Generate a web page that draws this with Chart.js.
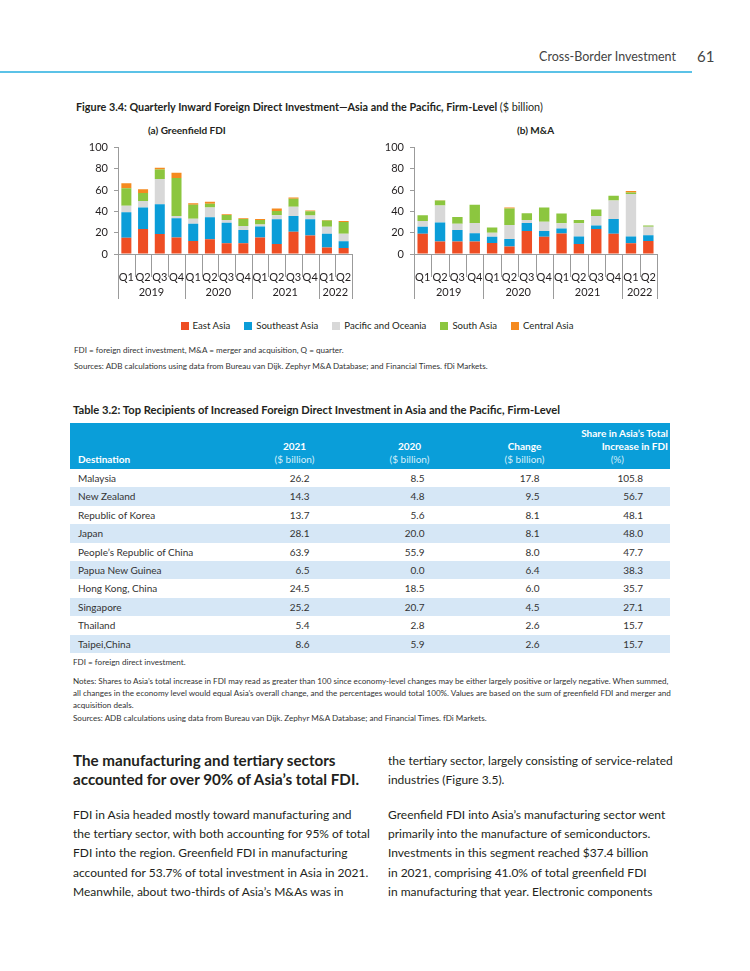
<!DOCTYPE html>
<html>
<head>
<meta charset="utf-8">
<script src="https://cdn.jsdelivr.net/npm/chart.js@4.4.1/dist/chart.umd.min.js"></script>
<style>
  body { margin:0; width:750px; height:971px; background:#fff; font-family:Lato, "Open Sans", sans-serif; color:#231f20; position:relative; overflow:hidden; }
  .abs { position:absolute; white-space:nowrap; }
  .hdr { top:49px; right:74px; font-size:12.5px; color:#444; }
  .pg { top:47px; left:697px; font-size:15px; color:#444; }
  .rule { top:71px; left:0; width:692px; height:1.5px; background:#5bc2e7; }
  .figt { top:100px; left:76px; font-size:10.8px; font-weight:bold; }
  .figt span { font-weight:normal; }
  .sub { top:124px; font-size:10px; font-weight:bold; }
  canvas { position:absolute; }
  .legend { top:320px; left:0; width:754px; display:flex; justify-content:center; font-size:9.6px; }
  .legend div { margin:0 7px; display:flex; align-items:center; }
  .legend i { display:inline-block; width:8px; height:8px; margin-right:4px; }
  .note { font-size:8.1px; color:#333; }
  .tt { top:403px; left:73px; font-size:11.2px; font-weight:bold; }
  table { position:absolute; top:423px; left:70px; width:600px; border-collapse:collapse; font-size:10px; table-layout:fixed; }
  th { background:#0a9ed9; color:#fff; font-weight:bold; height:43px; vertical-align:bottom; padding:0 4px 3px 8px; line-height:13px; text-align:center; white-space:nowrap; }
  th .u { font-weight:normal; color:#d4eef9; }
  td { height:18.4px; padding:0 4px 0 8px; text-align:center; line-height:18.4px; color:#333; white-space:nowrap; }
  td:first-child, th:first-child { text-align:left; }
  td span { display:inline-block; width:30px; text-align:right; }
  tr.b td { background:#d6e7f6; }
  .h2 { top:751px; left:73px; font-size:15.2px; font-weight:bold; line-height:19px; color:#231f20; }
  .body { font-size:12px; line-height:19.2px; color:#231f20; }
</style>
</head>
<body>
<div class="abs hdr">Cross-Border Investment</div>
<div class="abs pg">61</div>
<div class="abs rule"></div>
<div class="abs figt">Figure 3.4: Quarterly Inward Foreign Direct Investment—Asia and the Pacific, Firm-Level <span>($ billion)</span></div>
<div class="abs sub" style="left:148px">(a) Greenfield FDI</div>
<div class="abs sub" style="left:517px">(b) M&amp;A</div>
<canvas id="chartA" width="290" height="170" style="left:76px;top:135px;width:290px;height:170px"></canvas>
<canvas id="chartB" width="300" height="170" style="left:372px;top:135px;width:300px;height:170px"></canvas>
<div class="abs legend" id="legend"></div>
<div class="abs note" style="top:345px;left:74px">FDI = foreign direct investment, M&amp;A = merger and acquisition, Q = quarter.</div>
<div class="abs note" style="top:361px;left:74px">Sources: ADB calculations using data from Bureau van Dijk. Zephyr M&amp;A Database; and Financial Times. fDi Markets.</div>

<div class="abs tt">Table 3.2: Top Recipients of Increased Foreign Direct Investment in Asia and the Pacific, Firm-Level</div>
<table id="tbl">
  <colgroup><col style="width:165px"><col style="width:115px"><col style="width:115px"><col style="width:115px"><col style="width:90px"></colgroup>
  <thead><tr>
    <th>Destination</th>
    <th>2021<br><span class="u">($ billion)</span></th>
    <th>2020<br><span class="u">($ billion)</span></th>
    <th>Change<br><span class="u">($ billion)</span></th>
    <th style="text-align:right;padding-right:2px;padding-left:0">Share in Asia’s Total<br>Increase in FDI<br><span class="u" style="padding-right:44px">(%)</span></th>
  </tr></thead>
  <tbody id="tbody"></tbody>
</table>
<div class="abs note" style="top:657px;left:73px">FDI = foreign direct investment.</div>
<div class="abs note" style="top:675px;left:73px;line-height:12px">Notes: Shares to Asia’s total increase in FDI may read as greater than 100 since economy-level changes may be either largely positive or largely negative. When summed,<br>all changes in the economy level would equal Asia’s overall change, and the percentages would total 100%. Values are based on the sum of greenfield FDI and merger and<br>acquisition deals.</div>
<div class="abs note" style="top:713px;left:73px">Sources: ADB calculations using data from Bureau van Dijk. Zephyr M&amp;A Database; and Financial Times. fDi Markets.</div>

<div class="abs h2">The manufacturing and tertiary sectors<br>accounted for over 90% of Asia’s total FDI.</div>
<div class="abs body" style="top:751px;left:388px">the tertiary sector, largely consisting of service-related<br>industries (Figure 3.5).</div>
<div class="abs body" style="top:805px;left:73px">FDI in Asia headed mostly toward manufacturing and<br>the tertiary sector, with both accounting for 95% of total<br>FDI into the region. Greenfield FDI in manufacturing<br>accounted for 53.7% of total investment in Asia in 2021.<br>Meanwhile, about two-thirds of Asia’s M&amp;As was in</div>
<div class="abs body" style="top:805px;left:388px">Greenfield FDI into Asia’s manufacturing sector went<br>primarily into the manufacture of semiconductors.<br>Investments in this segment reached $37.4 billion<br>in 2021, comprising 41.0% of total greenfield FDI<br>in manufacturing that year. Electronic components</div>

<script>
var quarters = ["Q1", "Q2", "Q3", "Q4", "Q1", "Q2", "Q3", "Q4", "Q1", "Q2", "Q3", "Q4", "Q1", "Q2"]
var years = ["2019", "2020", "2021", "2022"]
var yearQuarters = [4, 4, 4, 2]
var regions = ["East Asia", "Southeast Asia", "Pacific and Oceania", "South Asia", "Central Asia"]
var regionColors = ["#ee4e24", "#0b9dd8", "#d8d8d8", "#8cc63f", "#f58a1f"]
var yTicks = [0, 20, 40, 60, 80, 100]

// (a) Greenfield FDI, $ billion
var gfEast = [15.2, 23.4, 18.7, 15.5, 12.3, 13.9, 10.1, 10.1, 15.5, 9.5, 20.9, 17.4, 6.0, 5.7]
var gfSoutheast = [24.0, 20.3, 28.1, 18.0, 16.2, 20.6, 19.3, 12.4, 10.4, 23.1, 14.9, 15.2, 13.0, 6.3]
var gfPacific = [6.1, 6.0, 23.8, 2.3, 4.7, 9.2, 2.6, 3.8, 1.9, 3.8, 8.5, 3.5, 6.6, 7.0]
var gfSouth = [16.4, 7.6, 8.8, 35.7, 13.0, 3.5, 4.7, 6.6, 4.2, 4.1, 7.6, 4.1, 6.0, 11.0]
var gfCentral = [4.8, 3.5, 1.6, 4.8, 1.6, 1.8, 0.6, 0.6, 0.9, 2.2, 1.3, 0.6, 0.4, 1.0]

// (b) M&A, $ billion
var maEast = [19.0, 11.7, 11.7, 11.7, 10.4, 7.0, 21.5, 16.1, 19.3, 9.5, 23.4, 19.0, 10.1, 12.3]
var maSoutheast = [6.6, 18.0, 10.8, 7.9, 5.7, 7.2, 7.6, 5.4, 4.7, 7.0, 3.5, 13.9, 6.4, 5.4]
var maPacific = [5.4, 15.9, 6.0, 9.5, 3.8, 13.0, 2.9, 8.9, 4.8, 12.3, 8.9, 17.4, 39.8, 7.9]
var maSouth = [5.4, 4.7, 6.3, 17.1, 5.1, 15.5, 6.3, 13.3, 9.2, 3.2, 6.0, 4.4, 1.6, 1.3]
var maCentral = [0, 0.3, 0, 0, 0, 1.0, 0, 0, 0, 0, 0, 0, 1.3, 0]

// table 3.2
var destinations = ["Malaysia", "New Zealand", "Republic of Korea", "Japan", "People’s Republic of China", "Papua New Guinea", "Hong Kong, China", "Singapore", "Thailand", "Taipei,China"]
var val2021 = ["26.2", "14.3", "13.7", "28.1", "63.9", "6.5", "24.5", "25.2", "5.4", "8.6"]
var val2020 = ["8.5", "4.8", "5.6", "20.0", "55.9", "0.0", "18.5", "20.7", "2.8", "5.9"]
var valChange = ["17.8", "9.5", "8.1", "8.1", "8.0", "6.4", "6.0", "4.5", "2.6", "2.6"]
var valShare = ["105.8", "56.7", "48.1", "48.0", "47.7", "38.3", "35.7", "27.1", "15.7", "15.7"]

var axisGrey = "#9b9b9b"
var tickFont = { family: "Lato", size: 11 }

// year row + quarter separators under the x axis
var yearAxisPlugin = {
    id: "yearAxis",
    afterDraw: function (chart) {
        var x = chart.scales.x
        var ctx = chart.ctx
        var base = chart.chartArea.bottom
        var step = x.getPixelForValue(1) - x.getPixelForValue(0)
        var yearEdges = [0]
        yearQuarters.forEach(function (n, i) { yearEdges.push(yearEdges[i] + n) })
        ctx.save()
        ctx.strokeStyle = axisGrey
        ctx.lineWidth = 1
        for (var b = 0; b <= quarters.length; b++) {
            var px = Math.round(x.getPixelForValue(b) - step / 2) + 0.5
            var len = yearEdges.indexOf(b) >= 0 ? 45 : 23
            ctx.beginPath()
            ctx.moveTo(px, base)
            ctx.lineTo(px, base + len)
            ctx.stroke()
        }
        ctx.fillStyle = "#231f20"
        ctx.font = "11px Lato"
        ctx.textAlign = "center"
        ctx.textBaseline = "middle"
        years.forEach(function (y, i) {
            var mid = (x.getPixelForValue(yearEdges[i]) + x.getPixelForValue(yearEdges[i + 1] - 1)) / 2
            ctx.fillText(y, mid, base + 38)
        })
        ctx.restore()
    }
}

function makeChart(id, series, rightPad) {
    var datasets = series.map(function (data, i) {
        return {
            label: regions[i],
            data: data,
            backgroundColor: regionColors[i],
            borderWidth: 0,
            barPercentage: 0.6,
            categoryPercentage: 1,
        }
    })
    return new Chart(document.getElementById(id).getContext("2d"), {
        type: "bar",
        data: { labels: quarters, datasets: datasets },
        options: {
            responsive: false,
            animation: false,
            layout: { padding: { top: 2, right: rightPad, left: 0, bottom: 0 } },
            plugins: { legend: { display: false }, tooltip: { enabled: false } },
            scales: {
                x: {
                    stacked: true,
                    grid: { display: false },
                    border: { display: true, color: axisGrey },
                    ticks: { font: tickFont, color: "#231f20", padding: 9, maxRotation: 0, autoSkip: false },
                    afterFit: function (s) { s.height = 51 },
                },
                y: {
                    stacked: true,
                    min: 0,
                    max: 100,
                    afterBuildTicks: function (s) { s.ticks = yTicks.map(function (v) { return { value: v } }) },
                    grid: { drawOnChartArea: false, drawTicks: true, tickLength: 4, color: axisGrey },
                    border: { display: true, color: axisGrey },
                    ticks: { font: tickFont, color: "#231f20", padding: 6 },
                    afterFit: function (s) { s.width = 42 },
                },
            },
        },
        plugins: [yearAxisPlugin],
    })
}

makeChart("chartA", [gfEast, gfSoutheast, gfPacific, gfSouth, gfCentral], 14)
makeChart("chartB", [maEast, maSoutheast, maPacific, maSouth, maCentral], 15)

var legend = document.getElementById("legend")
regions.forEach(function (r, i) {
    legend.insertAdjacentHTML("beforeend", '<div><i style="background:' + regionColors[i] + '"></i>' + r + '</div>')
})

var tbody = document.getElementById("tbody")
destinations.forEach(function (d, i) {
    tbody.insertAdjacentHTML("beforeend", '<tr class="' + (i % 2 ? "b" : "") + '"><td>' + d + '</td><td><span>' + val2021[i] + '</span></td><td><span>' + val2020[i] + '</span></td><td><span>' + valChange[i] + '</span></td><td><span style="width:32px">' + valShare[i] + '</span></td></tr>')
})
</script>
</body>
</html>
